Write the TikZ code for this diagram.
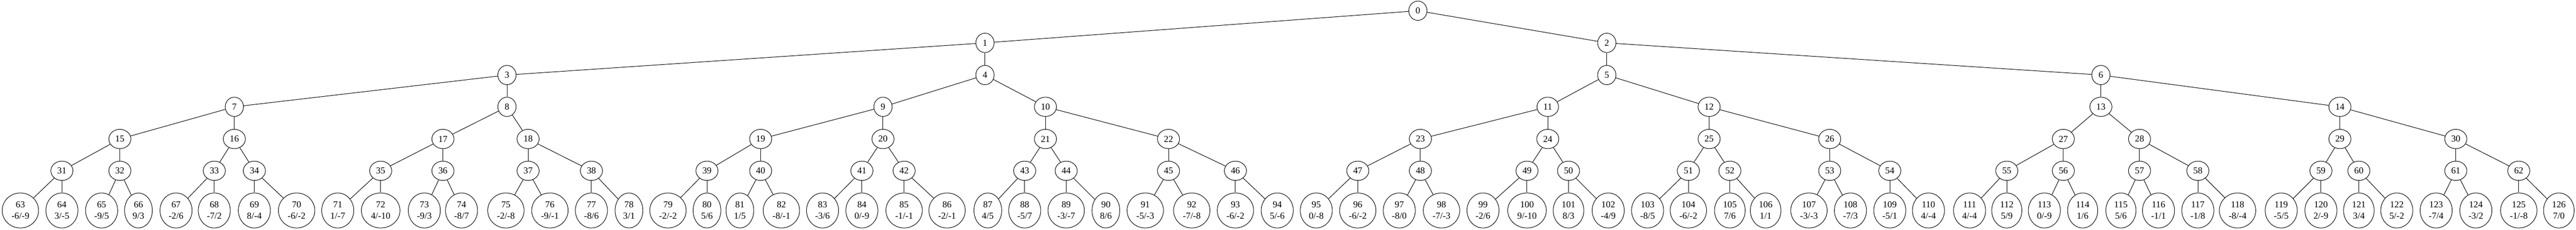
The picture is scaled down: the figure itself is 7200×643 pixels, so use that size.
\documentclass[tikz,border=0pt]{standalone}
\usepackage{fontspec}
\setmainfont{Liberation Serif}
\usetikzlibrary{shapes}

\begin{document}
\begin{tikzpicture}[x=0.01cm,y=-0.01cm]
        \tikzstyle{every node} = [draw,shape=ellipse,fill=white,line width=0.4pt,inner xsep=0.09cm,inner ysep=0pt,minimum width=0.51cm,minimum height=0.54cm,font=\fontsize{7.3pt}{9pt}\selectfont]
        \tikzstyle{leaf} = [align=center,inner xsep=0.11cm,minimum height=0.98cm]
    \useasboundingbox (0,0) rectangle (7200,643);

    \node (n0) at (3963,30) {0};
    \node (n1) at (2753,120) {1};
    \node (n2) at (4491,120) {2};
    \node (n3) at (1417,210) {3};
    \node (n4) at (2753,210) {4};
    \node (n5) at (4491,210) {5};
    \node (n6) at (5872,210) {6};
    \node (n7) at (655,299) {7};
    \node (n8) at (1417,299) {8};
    \node (n9) at (2468,299) {9};
    \node (n10) at (2922,299) {10};
    \node (n11) at (4326,299) {11};
    \node (n12) at (4777,299) {12};
    \node (n13) at (5872,299) {13};
    \node (n14) at (6540,299) {14};
    \node (n15) at (335,389) {15};
    \node (n16) at (655,389) {16};
    \node (n17) at (1238,389) {17};
    \node (n18) at (1476,389) {18};
    \node (n19) at (2126,389) {19};
    \node (n20) at (2468,389) {20};
    \node (n21) at (2922,389) {21};
    \node (n22) at (3266,389) {22};
    \node (n23) at (3970,389) {23};
    \node (n24) at (4326,389) {24};
    \node (n25) at (4777,389) {25};
    \node (n26) at (5114,389) {26};
    \node (n27) at (5767,389) {27};
    \node (n28) at (5980,389) {28};
    \node (n29) at (6540,389) {29};
    \node (n30) at (6864,389) {30};
    \node (n31) at (173,478) {31};
    \node (n32) at (335,478) {32};
    \node (n33) at (599,478) {33};
    \node (n34) at (711,478) {34};
    \node (n35) at (1064,478) {35};
    \node (n36) at (1238,478) {36};
    \node (n37) at (1476,478) {37};
    \node (n38) at (1653,478) {38};
    \node (n39) at (1976,478) {39};
    \node (n40) at (2126,478) {40};
    \node (n41) at (2409,478) {41};
    \node (n42) at (2527,478) {42};
    \node (n43) at (2864,478) {43};
    \node (n44) at (2980,478) {44};
    \node (n45) at (3266,478) {45};
    \node (n46) at (3453,478) {46};
    \node (n47) at (3795,478) {47};
    \node (n48) at (3970,478) {48};
    \node (n49) at (4268,478) {49};
    \node (n50) at (4384,478) {50};
    \node (n51) at (4719,478) {51};
    \node (n52) at (4835,478) {52};
    \node (n53) at (5114,478) {53};
    \node (n54) at (5282,478) {54};
    \node (n55) at (5609,478) {55};
    \node (n56) at (5767,478) {56};
    \node (n57) at (5980,478) {57};
    \node (n58) at (6143,478) {58};
    \node (n59) at (6487,478) {59};
    \node (n60) at (6593,478) {60};
    \node (n61) at (6864,478) {61};
    \node (n62) at (7040,478) {62};

    \node[leaf] (n63) at (57,589) {63\\-6/-9};
    \node[leaf] (n64) at (173,589) {64\\3/-5};
    \node[leaf] (n65) at (284,589) {65\\-9/5};
    \node[leaf] (n66) at (387,589) {66\\9/3};
    \node[leaf] (n67) at (492,589) {67\\-2/6};
    \node[leaf] (n68) at (599,589) {68\\-7/2};
    \node[leaf] (n69) at (711,589) {69\\8/-4};
    \node[leaf] (n70) at (829,589) {70\\-6/-2};
    \node[leaf] (n71) at (944,589) {71\\1/-7};
    \node[leaf] (n72) at (1064,589) {72\\4/-10};
    \node[leaf] (n73) at (1186,589) {73\\-9/3};
    \node[leaf] (n74) at (1290,589) {74\\-8/7};
    \node[leaf] (n75) at (1414,589) {75\\-2/-8};
    \node[leaf] (n76) at (1537,589) {76\\-9/-1};
    \node[leaf] (n77) at (1653,589) {77\\-8/6};
    \node[leaf] (n78) at (1758,589) {78\\3/1};
    \node[leaf] (n79) at (1867,589) {79\\-2/-2};
    \node[leaf] (n80) at (1976,589) {80\\5/6};
    \node[leaf] (n81) at (2068,589) {81\\1/5};
    \node[leaf] (n82) at (2184,589) {82\\-8/-1};
    \node[leaf] (n83) at (2299,589) {83\\-3/6};
    \node[leaf] (n84) at (2409,589) {84\\0/-9};
    \node[leaf] (n85) at (2527,589) {85\\-1/-1};
    \node[leaf] (n86) at (2647,589) {86\\-2/-1};
    \node[leaf] (n87) at (2761,589) {87\\4/5};
    \node[leaf] (n88) at (2864,589) {88\\-5/7};
    \node[leaf] (n89) at (2980,589) {89\\-3/-7};
    \node[leaf] (n90) at (3091,589) {90\\8/6};
    \node[leaf] (n91) at (3201,589) {91\\-5/-3};
    \node[leaf] (n92) at (3331,589) {92\\-7/-8};
    \node[leaf] (n93) at (3453,589) {93\\-6/-2};
    \node[leaf] (n94) at (3570,589) {94\\5/-6};
    \node[leaf] (n95) at (3679,589) {95\\0/-8};
    \node[leaf] (n96) at (3795,589) {96\\-6/-2};
    \node[leaf] (n97) at (3911,589) {97\\-8/0};
    \node[leaf] (n98) at (4029,589) {98\\-7/-3};
    \node[leaf] (n99) at (4145,589) {99\\-2/6};
    \node[leaf] (n100) at (4268,589) {100\\9/-10};
    \node[leaf] (n101) at (4384,589) {101\\8/3};
    \node[leaf] (n102) at (4495,589) {102\\-4/9};
    \node[leaf] (n103) at (4605,589) {103\\-8/5};
    \node[leaf] (n104) at (4719,589) {104\\-6/-2};
    \node[leaf] (n105) at (4835,589) {105\\7/6};
    \node[leaf] (n106) at (4935,589) {106\\1/1};
    \node[leaf] (n107) at (5056,589) {107\\-3/-3};
    \node[leaf] (n108) at (5172,589) {108\\-7/3};
    \node[leaf] (n109) at (5282,589) {109\\-5/1};
    \node[leaf] (n110) at (5390,589) {110\\4/-4};
    \node[leaf] (n111) at (5505,589) {111\\4/-4};
    \node[leaf] (n112) at (5609,589) {112\\5/9};
    \node[leaf] (n113) at (5714,589) {113\\0/-9};
    \node[leaf] (n114) at (5821,589) {114\\1/6};
    \node[leaf] (n115) at (5928,589) {115\\5/6};
    \node[leaf] (n116) at (6033,589) {116\\-1/1};
    \node[leaf] (n117) at (6143,589) {117\\-1/8};
    \node[leaf] (n118) at (6254,589) {118\\-8/-4};
    \node[leaf] (n119) at (6376,589) {119\\-5/5};
    \node[leaf] (n120) at (6487,589) {120\\2/-9};
    \node[leaf] (n121) at (6593,589) {121\\3/4};
    \node[leaf] (n122) at (6699,589) {122\\5/-2};
    \node[leaf] (n123) at (6809,589) {123\\-7/4};
    \node[leaf] (n124) at (6920,589) {124\\-3/2};
    \node[leaf] (n125) at (7040,589) {125\\-1/-8};
    \node[leaf] (n126) at (7152,589) {126\\7/0};

    \draw (n0) -- (n1); \draw (n0) -- (n2);
    \draw (n1) -- (n3); \draw (n1) -- (n4);
    \draw (n2) -- (n5); \draw (n2) -- (n6);
    \draw (n3) -- (n7); \draw (n3) -- (n8);
    \draw (n4) -- (n9); \draw (n4) -- (n10);
    \draw (n5) -- (n11); \draw (n5) -- (n12);
    \draw (n6) -- (n13); \draw (n6) -- (n14);
    \draw (n7) -- (n15); \draw (n7) -- (n16);
    \draw (n8) -- (n17); \draw (n8) -- (n18);
    \draw (n9) -- (n19); \draw (n9) -- (n20);
    \draw (n10) -- (n21); \draw (n10) -- (n22);
    \draw (n11) -- (n23); \draw (n11) -- (n24);
    \draw (n12) -- (n25); \draw (n12) -- (n26);
    \draw (n13) -- (n27); \draw (n13) -- (n28);
    \draw (n14) -- (n29); \draw (n14) -- (n30);
    \draw (n15) -- (n31); \draw (n15) -- (n32);
    \draw (n16) -- (n33); \draw (n16) -- (n34);
    \draw (n17) -- (n35); \draw (n17) -- (n36);
    \draw (n18) -- (n37); \draw (n18) -- (n38);
    \draw (n19) -- (n39); \draw (n19) -- (n40);
    \draw (n20) -- (n41); \draw (n20) -- (n42);
    \draw (n21) -- (n43); \draw (n21) -- (n44);
    \draw (n22) -- (n45); \draw (n22) -- (n46);
    \draw (n23) -- (n47); \draw (n23) -- (n48);
    \draw (n24) -- (n49); \draw (n24) -- (n50);
    \draw (n25) -- (n51); \draw (n25) -- (n52);
    \draw (n26) -- (n53); \draw (n26) -- (n54);
    \draw (n27) -- (n55); \draw (n27) -- (n56);
    \draw (n28) -- (n57); \draw (n28) -- (n58);
    \draw (n29) -- (n59); \draw (n29) -- (n60);
    \draw (n30) -- (n61); \draw (n30) -- (n62);
    \draw (n31) -- (n63); \draw (n31) -- (n64);
    \draw (n32) -- (n65); \draw (n32) -- (n66);
    \draw (n33) -- (n67); \draw (n33) -- (n68);
    \draw (n34) -- (n69); \draw (n34) -- (n70);
    \draw (n35) -- (n71); \draw (n35) -- (n72);
    \draw (n36) -- (n73); \draw (n36) -- (n74);
    \draw (n37) -- (n75); \draw (n37) -- (n76);
    \draw (n38) -- (n77); \draw (n38) -- (n78);
    \draw (n39) -- (n79); \draw (n39) -- (n80);
    \draw (n40) -- (n81); \draw (n40) -- (n82);
    \draw (n41) -- (n83); \draw (n41) -- (n84);
    \draw (n42) -- (n85); \draw (n42) -- (n86);
    \draw (n43) -- (n87); \draw (n43) -- (n88);
    \draw (n44) -- (n89); \draw (n44) -- (n90);
    \draw (n45) -- (n91); \draw (n45) -- (n92);
    \draw (n46) -- (n93); \draw (n46) -- (n94);
    \draw (n47) -- (n95); \draw (n47) -- (n96);
    \draw (n48) -- (n97); \draw (n48) -- (n98);
    \draw (n49) -- (n99); \draw (n49) -- (n100);
    \draw (n50) -- (n101); \draw (n50) -- (n102);
    \draw (n51) -- (n103); \draw (n51) -- (n104);
    \draw (n52) -- (n105); \draw (n52) -- (n106);
    \draw (n53) -- (n107); \draw (n53) -- (n108);
    \draw (n54) -- (n109); \draw (n54) -- (n110);
    \draw (n55) -- (n111); \draw (n55) -- (n112);
    \draw (n56) -- (n113); \draw (n56) -- (n114);
    \draw (n57) -- (n115); \draw (n57) -- (n116);
    \draw (n58) -- (n117); \draw (n58) -- (n118);
    \draw (n59) -- (n119); \draw (n59) -- (n120);
    \draw (n60) -- (n121); \draw (n60) -- (n122);
    \draw (n61) -- (n123); \draw (n61) -- (n124);
    \draw (n62) -- (n125); \draw (n62) -- (n126);

    \end{tikzpicture}
\end{document}
